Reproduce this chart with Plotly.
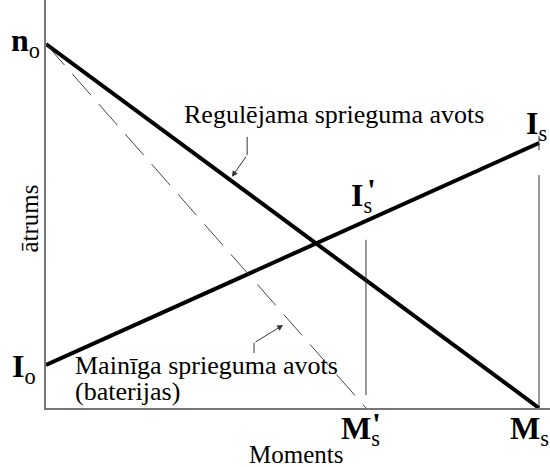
import plotly.graph_objects as go

# Data (normalized: x = moment, y = speed / current)
n_o = 1.0          # no-load speed
M_s = 1.0          # stall moment (regulated source)
M_s_prime = 0.649  # stall moment (battery source)
I_o = 0.118        # no-load current
I_s = 0.728        # stall current
I_s_prime_top = 0.462   # top of the vertical marker at M_s'
M_s_line_top = 0.64     # top of the vertical marker at M_s

speed_reg_x = [0.0, M_s]
speed_reg_y = [n_o, 0.0]
speed_bat_x = [0.0, M_s_prime]
speed_bat_y = [n_o, 0.0]
current_x = [0.0, M_s]
current_y = [I_o, I_s]

XMAX = 1.0223
YMAX = 1.1209
def px(x):
    return x / XMAX
def py(y):
    return y / YMAX

FONT = "Liberation Serif, Times New Roman, serif"
fig = go.Figure()

line_thin = dict(color="#333", width=1)
fig.add_trace(go.Scatter(x=speed_reg_x, y=speed_reg_y, mode="lines",
                         line=dict(color="black", width=4), hoverinfo="skip"))
fig.add_trace(go.Scatter(x=current_x, y=current_y, mode="lines",
                         line=dict(color="black", width=4), hoverinfo="skip"))
fig.add_trace(go.Scatter(x=speed_bat_x, y=speed_bat_y, mode="lines",
                         line=dict(color="#444", width=1, dash="28px,12px"), hoverinfo="skip"))
fig.add_trace(go.Scatter(x=[M_s_prime, M_s_prime], y=[0.035, I_s_prime_top], mode="lines",
                         line=line_thin, hoverinfo="skip"))
fig.add_trace(go.Scatter(x=[M_s, M_s], y=[0.0, M_s_line_top], mode="lines",
                         line=line_thin, hoverinfo="skip"))
fig.add_trace(go.Scatter(x=[M_s, M_s], y=[I_s - 0.02, I_s + 0.02], mode="lines",
                         line=line_thin, hoverinfo="skip"))
# Arrow polylines (vertical part)
fig.add_trace(go.Scatter(x=[0.408, 0.408], y=[0.745, 0.695], mode="lines",
                         line=line_thin, hoverinfo="skip"))
fig.add_trace(go.Scatter(x=[0.422, 0.422], y=[0.151, 0.179], mode="lines",
                         line=line_thin, hoverinfo="skip"))

ann = []
ann.append(dict(x=0.377, y=0.635, ax=0.408, ay=0.695, axref="x", ayref="y", xref="x", yref="y",
                text="", showarrow=True, arrowhead=2, arrowsize=1.2, arrowwidth=1, arrowcolor="#333"))
ann.append(dict(x=0.481, y=0.228, ax=0.422, ay=0.179, axref="x", ayref="y", xref="x", yref="y",
                text="", showarrow=True, arrowhead=2, arrowsize=1.2, arrowwidth=1, arrowcolor="#333"))

big = dict(family=FONT, size=32, color="black")
def lab(x, y, text, xanchor="center", xshift=0, yshift=0, font=big, **kw):
    ann.append(dict(x=px(x), y=py(y), xref="paper", yref="paper", text=text, showarrow=False,
                    xanchor=xanchor, yanchor="middle", xshift=xshift, yshift=yshift, font=font, **kw))

lab(0, n_o, "<b>n</b><sub>o</sub>", xanchor="right", xshift=-4, yshift=2)
lab(0, I_o, "<b>I</b><sub>o</sub>", xanchor="right", xshift=-8, yshift=-3)
lab(M_s_prime, -0.063, "<b>M</b><sub>s</sub>", xshift=-5)
lab(M_s_prime, -0.045, "<b>'</b>", xshift=11)
lab(M_s, -0.063, "<b>M</b><sub>s</sub>", xshift=-10)
lab(0.627, 0.578, "<b>I</b><sub>s</sub>", xshift=6)
lab(0.627, 0.60, "<b>'</b>", xshift=16)
lab(M_s, 0.775, "<b>I</b><sub>s</sub>", xanchor="right", xshift=10)

txt = dict(family=FONT, size=26, color="black")
lab(0.276, 0.806, "Regulējama sprieguma avots", xanchor="left", font=txt)
lab(0.055, 0.118, "Mainīga sprieguma avots", xanchor="left", font=txt)
lab(0.055, 0.044, "(baterijas)", xanchor="left", font=txt)
lab(0.508, -0.129, "Moments", font=dict(family=FONT, size=25, color="black"))
lab(-0.039, 0.52, "ātrums", font=dict(family=FONT, size=25, color="black"), textangle=-90, xshift=3)

fig.update_layout(
    width=550, height=467,
    margin=dict(l=46, r=0, t=0, b=59),
    plot_bgcolor="white", paper_bgcolor="white",
    showlegend=False,
    annotations=ann,
    xaxis=dict(range=[0, XMAX], showgrid=False, zeroline=False, showticklabels=False,
               ticks="", showline=True, linecolor="#777", linewidth=1.5, fixedrange=True),
    yaxis=dict(range=[0, YMAX], showgrid=False, zeroline=False, showticklabels=False,
               ticks="", showline=True, linecolor="#777", linewidth=1.5, fixedrange=True),
)
fig.write_html("out.html", post_script="document.body.style.margin='0';",
               config={"displayModeBar": False})
